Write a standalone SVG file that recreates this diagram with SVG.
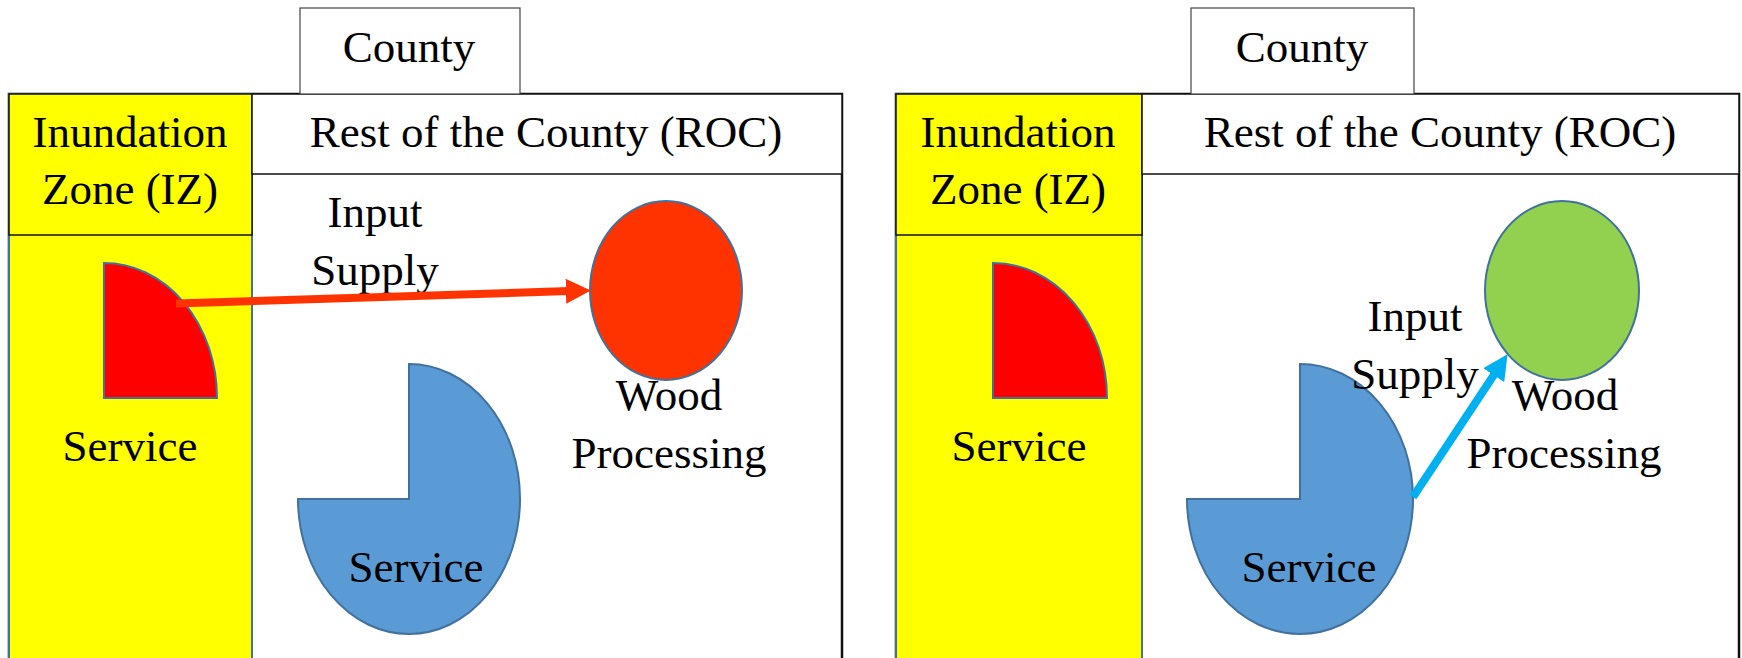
<svg xmlns="http://www.w3.org/2000/svg" width="1742" height="658" viewBox="0 0 1742 658">
<style>
text{font-family:"Liberation Serif","Times New Roman",serif;font-size:45px;fill:#000;text-anchor:middle}
.frame{fill:#fff;stroke:#111;stroke-width:2.5}
.iz{fill:#ffff00;stroke:#41719c;stroke-width:2}
.izh{fill:#ffff00;stroke:#111;stroke-width:1.5}
.roch{fill:#fff;stroke:#111;stroke-width:1.5}
.county{fill:#fff;stroke:#444;stroke-width:1.2}
.shape{stroke:#41719c;stroke-width:2}
</style>
<defs>
<marker id="headRed" markerUnits="userSpaceOnUse" markerWidth="25" markerHeight="25" viewBox="0 0 24 24" refX="3" refY="12" orient="auto"><path d="M0,0 L24,12 L0,24 Z" fill="#ff3300"/></marker>
<marker id="headCyan" markerUnits="userSpaceOnUse" markerWidth="25" markerHeight="25" viewBox="0 0 24 24" refX="3" refY="12" orient="auto"><path d="M0,0 L24,12 L0,24 Z" fill="#00b0f0"/></marker>
</defs>

<g id="left-panel">
<rect class="frame" x="9" y="94" width="833" height="620"/>
<rect class="iz" x="9" y="94" width="243" height="620"/>
<rect class="izh" x="9" y="94" width="243" height="141"/>
<rect class="roch" x="252" y="94" width="590" height="80"/>
<rect class="county" x="300" y="8" width="220" height="86"/>
<text x="409" y="62">County</text>
<text x="546" y="147">Rest of the County (ROC)</text>
<text x="130" y="147">Inundation</text>
<text x="130" y="204">Zone (IZ)</text>
</g>
<g id="left-iz-service">
<path class="shape" d="M104,263 A113,135 0 0 1 217,398 L104,398 Z" fill="#ff0000"/>
<text x="130" y="461">Service</text>
</g>
<g id="left-wood">
<ellipse class="shape" cx="666" cy="290.5" rx="76" ry="89.5" fill="#ff3300"/>
<text x="669" y="410">Wood</text>
<text x="669" y="468">Processing</text>
</g>
<g id="left-roc-service">
<path class="shape" d="M409,364 A111,135 0 1 1 298,499 L409,499 Z" fill="#5b9bd5"/>
<text x="416" y="582">Service</text>
</g>
<g id="left-input-label">
<text x="375" y="227">Input</text>
<text x="375" y="285">Supply</text>
</g>

<g id="right-panel">
<rect class="frame" x="896" y="94" width="843" height="620"/>
<rect class="iz" x="896" y="94" width="246" height="620"/>
<rect class="izh" x="896" y="94" width="246" height="141"/>
<rect class="roch" x="1142" y="94" width="597" height="80"/>
<rect class="county" x="1191" y="8" width="223" height="86"/>
<text x="1302" y="62">County</text>
<text x="1440" y="147">Rest of the County (ROC)</text>
<text x="1018" y="147">Inundation</text>
<text x="1018" y="204">Zone (IZ)</text>
</g>
<g id="right-iz-service">
<path class="shape" d="M993,263 A114,135 0 0 1 1107,398 L993,398 Z" fill="#ff0000"/>
<text x="1019" y="461">Service</text>
</g>
<g id="right-wood">
<ellipse class="shape" cx="1562" cy="290.5" rx="77" ry="89.5" fill="#92d050"/>
<text x="1565" y="410">Wood</text>
<text x="1564" y="468">Processing</text>
</g>
<g id="right-roc-service">
<path class="shape" d="M1300,364 A113,135 0 1 1 1187,499 L1300,499 Z" fill="#5b9bd5"/>
<text x="1309" y="582">Service</text>
</g>
<g id="right-input-label">
<text x="1415" y="331">Input</text>
<text x="1415" y="389">Supply</text>
</g>

<g id="connectors">
<line x1="176" y1="303.5" x2="569" y2="291.1" stroke="#ff3300" stroke-width="8" marker-end="url(#headRed)"/>
<line x1="1413" y1="497" x2="1495.5" y2="372.5" stroke="#00b0f0" stroke-width="8" marker-end="url(#headCyan)"/>
</g>
</svg>
